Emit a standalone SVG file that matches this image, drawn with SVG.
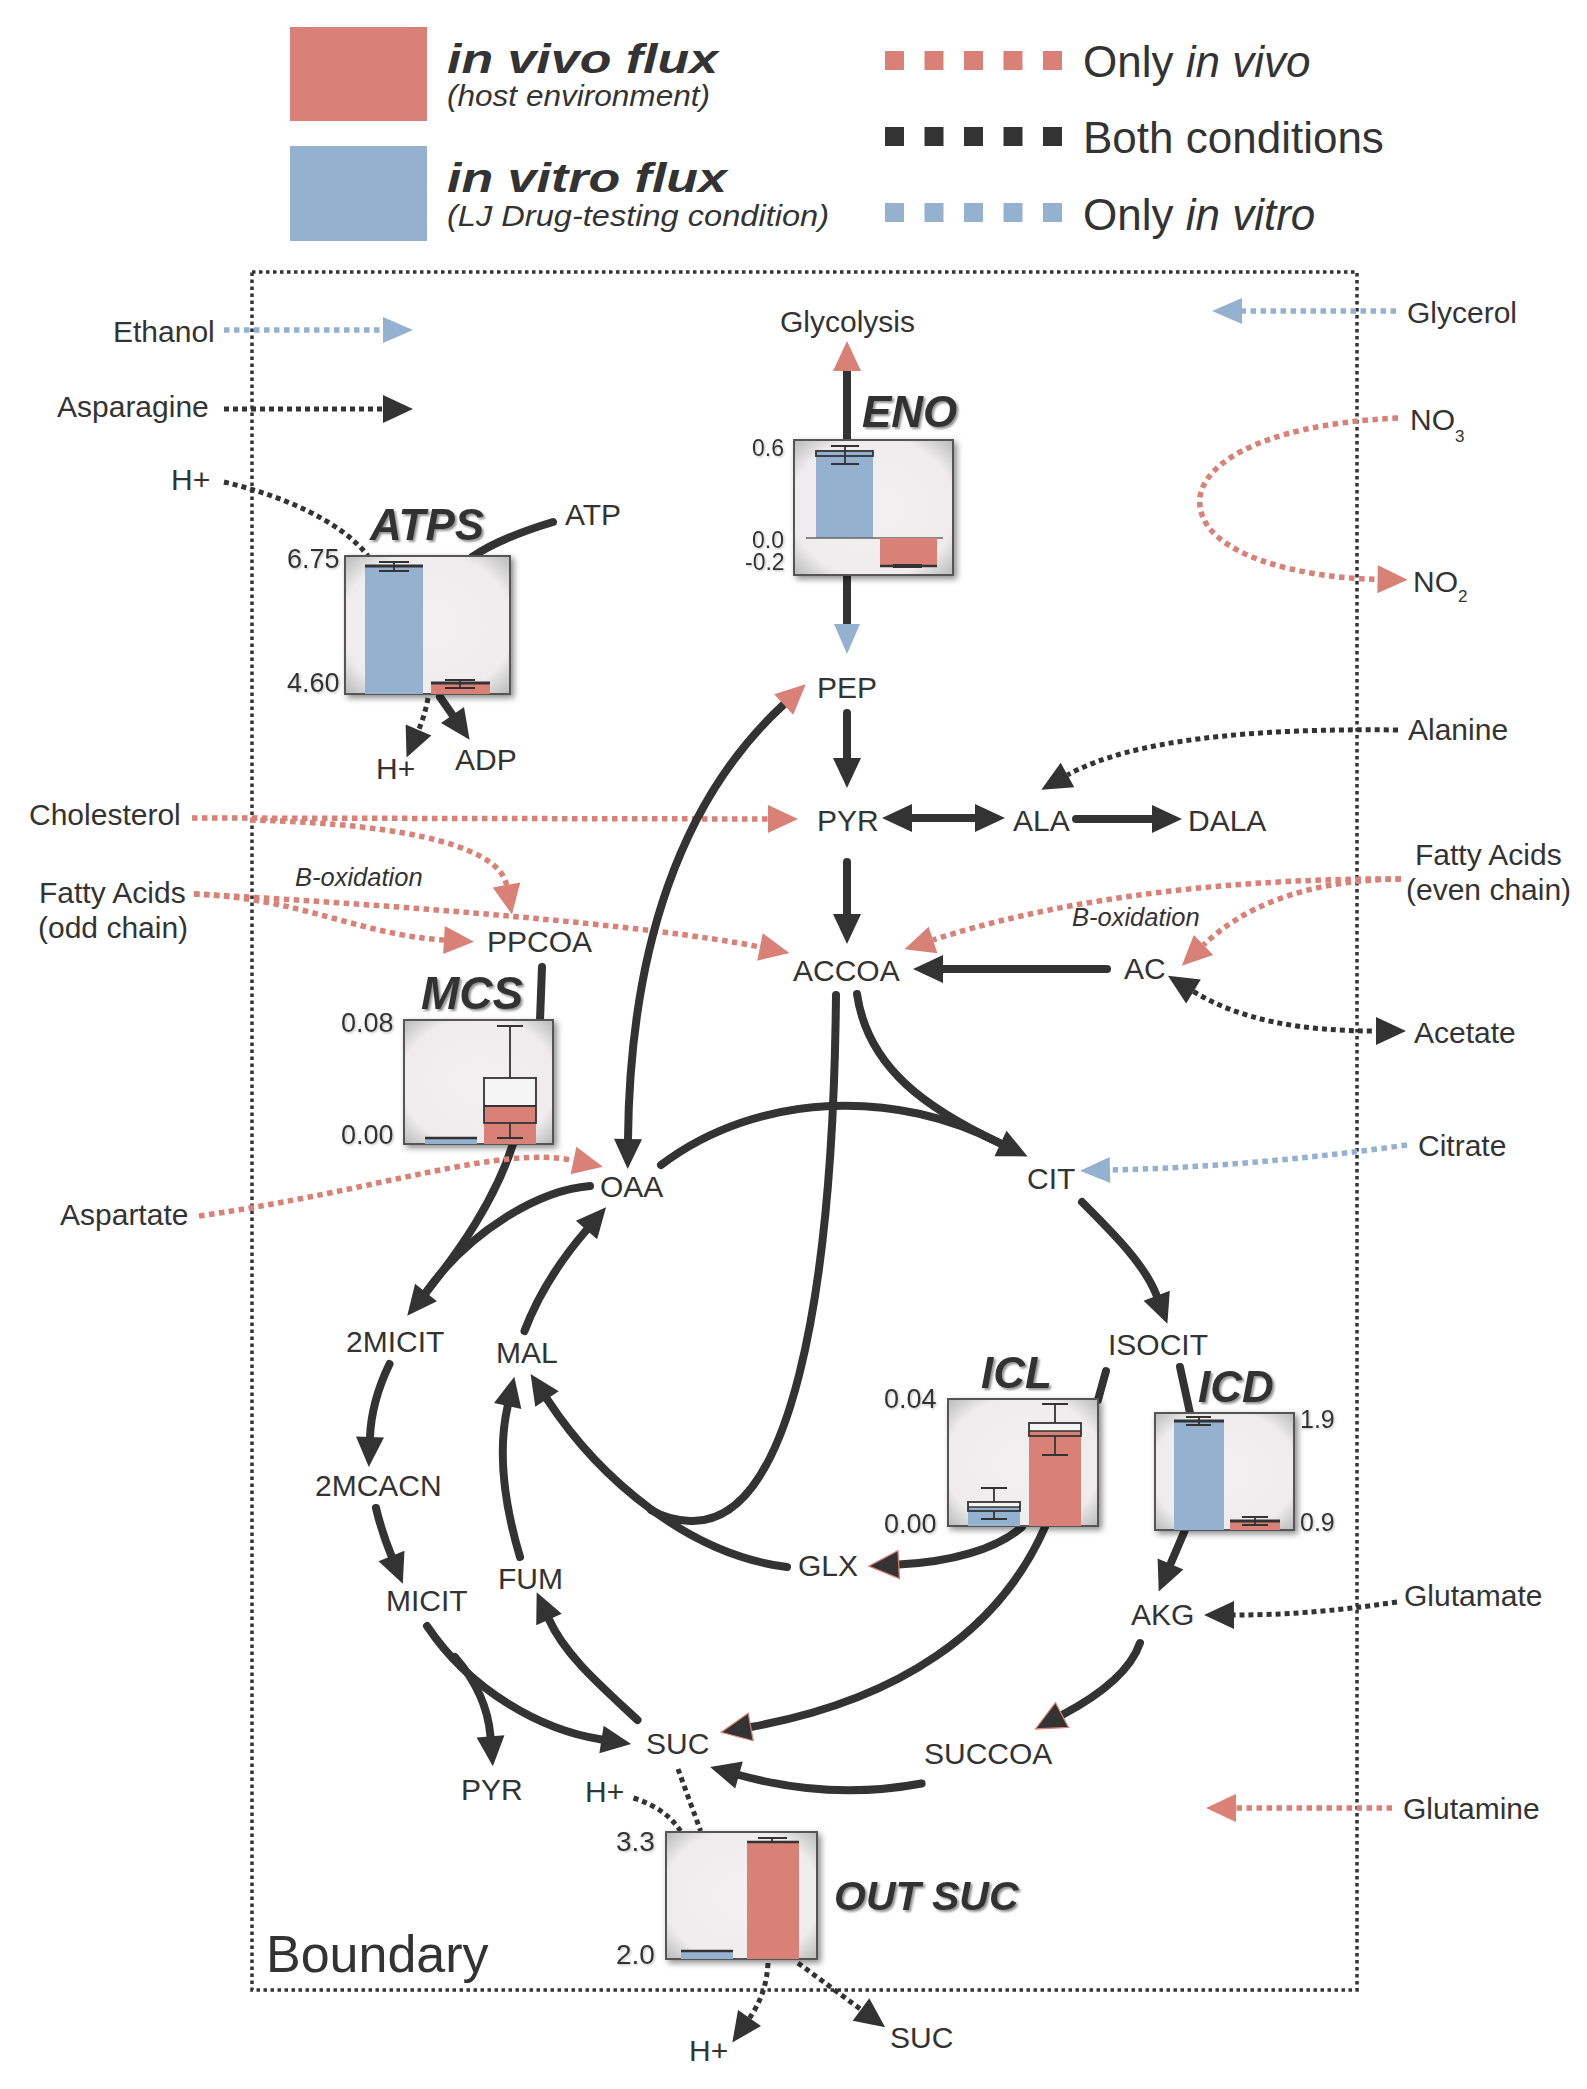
<svg xmlns="http://www.w3.org/2000/svg" width="1587" height="2089" viewBox="0 0 1587 2089">
<defs>
<style>
.t{font-family:"Liberation Sans",Arial,sans-serif;font-size:30px;fill:#333}
.n{font-family:"Liberation Sans",Arial,sans-serif;font-size:27px;fill:#333;filter:url(#nsh)}
.en{font-family:"Liberation Sans",Arial,sans-serif;font-weight:bold;font-style:italic;font-size:44px;fill:#333;filter:url(#tsh)}
.it{font-style:italic}
.s{fill:none;stroke:#333;stroke-width:8;stroke-linecap:round}
.dk{fill:none;stroke:#333;stroke-width:5;stroke-dasharray:5 4}
.dr{fill:none;stroke:#d98077;stroke-width:5.5;stroke-dasharray:5.5 4.5}
.db{fill:none;stroke:#95b1d0;stroke-width:5.5;stroke-dasharray:5.5 4.5}
.box{fill:url(#bg);stroke:#555;stroke-width:2;filter:url(#sh)}
.rb{fill:#d98077}
.bb{fill:#95b1d0}
.wk{stroke:#333;stroke-width:1.8;fill:none}
</style>
<radialGradient id="bg" cx="50%" cy="50%" r="72%">
<stop offset="0" stop-color="#f2f0f1"/>
<stop offset="0.72" stop-color="#eeeced"/>
<stop offset="1" stop-color="#b5b5b5"/>
</radialGradient>
<filter id="sh" x="-20%" y="-20%" width="140%" height="140%">
<feDropShadow dx="3" dy="3" stdDeviation="3" flood-color="#000" flood-opacity="0.45"/>
</filter>
<filter id="tsh" x="-20%" y="-20%" width="140%" height="140%">
<feDropShadow dx="2" dy="2" stdDeviation="1.2" flood-color="#777" flood-opacity="0.8"/>
</filter>
<filter id="nsh" x="-20%" y="-20%" width="140%" height="140%">
<feDropShadow dx="1.2" dy="1.2" stdDeviation="0.8" flood-color="#999" flood-opacity="0.6"/>
</filter>
<marker id="ad" viewBox="0 0 30 28" refX="0" refY="14" markerWidth="30" markerHeight="28" markerUnits="userSpaceOnUse" orient="auto-start-reverse" overflow="visible"><path d="M0,0 L30,14 L0,28 z" fill="#333"/></marker>
<marker id="adr" viewBox="0 0 30 28" refX="0" refY="14" markerWidth="30" markerHeight="28" markerUnits="userSpaceOnUse" orient="auto" overflow="visible"><path d="M0,0 L30,14 L0,28 z" fill="#333" stroke="#d98077" stroke-width="1.2"/></marker>
<marker id="ar" viewBox="0 0 30 28" refX="0" refY="14" markerWidth="30" markerHeight="28" markerUnits="userSpaceOnUse" orient="auto-start-reverse" overflow="visible"><path d="M0,0 L30,14 L0,28 z" fill="#d98077"/></marker>
<marker id="ab" viewBox="0 0 30 28" refX="0" refY="14" markerWidth="30" markerHeight="28" markerUnits="userSpaceOnUse" orient="auto" overflow="visible"><path d="M0,1 L30,14 L0,27 z" fill="#95b1d0"/></marker>
</defs>
<rect width="1587" height="2089" fill="#fff"/>

<!-- Legend -->
<g id="legend">
<rect x="290" y="27" width="137" height="94" fill="#d98077"/>
<rect x="290" y="146" width="137" height="95" fill="#95b1d0"/>
<text class="t" x="447" y="73" style="font-size:40px;font-weight:bold;font-style:italic" textLength="271" lengthAdjust="spacingAndGlyphs">in vivo flux</text>
<text class="t it" x="447" y="106" style="font-size:29px" textLength="263" lengthAdjust="spacingAndGlyphs">(host environment)</text>
<text class="t" x="447" y="192" style="font-size:40px;font-weight:bold;font-style:italic" textLength="280" lengthAdjust="spacingAndGlyphs">in vitro flux</text>
<text class="t it" x="447" y="226" style="font-size:29px" textLength="382" lengthAdjust="spacingAndGlyphs">(LJ Drug-testing condition)</text>
<g fill="#d98077"><rect x="885" y="51" width="19" height="19"/><rect x="924.5" y="51" width="19" height="19"/><rect x="964" y="51" width="19" height="19"/><rect x="1003.5" y="51" width="19" height="19"/><rect x="1043" y="51" width="19" height="19"/></g>
<g fill="#333"><rect x="885" y="127" width="19" height="19"/><rect x="924.5" y="127" width="19" height="19"/><rect x="964" y="127" width="19" height="19"/><rect x="1003.5" y="127" width="19" height="19"/><rect x="1043" y="127" width="19" height="19"/></g>
<g fill="#95b1d0"><rect x="885" y="203" width="19" height="19"/><rect x="924.5" y="203" width="19" height="19"/><rect x="964" y="203" width="19" height="19"/><rect x="1003.5" y="203" width="19" height="19"/><rect x="1043" y="203" width="19" height="19"/></g>
<text class="t" x="1083" y="77" style="font-size:44px">Only <tspan class="it">in vivo</tspan></text>
<text class="t" x="1083" y="153" style="font-size:44px">Both conditions</text>
<text class="t" x="1083" y="230" style="font-size:44px">Only <tspan class="it">in vitro</tspan></text>
</g>

<!-- Boundary -->
<g id="boundary">
<rect x="252" y="272" width="1105" height="1718" fill="none" stroke="#333" stroke-width="3.5" stroke-dasharray="3.5 3.5"/>
<text class="t" x="266" y="1972" style="font-size:52px">Boundary</text>
</g>

<!-- Connectors -->
<g id="connectors">
<path class="db" d="M224,330 L383,330" marker-end="url(#ab)"/>
<path class="dk" d="M224,409 L383,409" marker-end="url(#ad)"/>
<path class="db" d="M1396,311 L1242,311" marker-end="url(#ab)"/>
<path class="dk" d="M224,482 C280,495 340,520 368,556"/>
<path class="s" d="M553,522 Q500,538 472,557"/>
<path class="s" d="M440,697 L452.5,715" marker-end="url(#ad)"/>
<path class="dk" d="M428,698 Q425,715 418.5,730" marker-end="url(#ad)"/>
<path class="s" d="M847,440 L847,371" marker-end="url(#ar)"/>
<path class="s" d="M847,575 L847,624" marker-end="url(#ab)"/>
<path class="s" d="M847,713 L847,758" marker-end="url(#ad)"/>
<path class="s" d="M912,818 L975,818" marker-start="url(#ad)" marker-end="url(#ad)"/>
<path class="s" d="M1076,819 L1152,819" marker-end="url(#ad)"/>
<path class="s" d="M847,862 L847,914" marker-end="url(#ad)"/>
<path class="s" d="M1107,969 L943,969" marker-end="url(#ad)"/>
<path class="dk" d="M1398,730 C1250,728 1130,740 1067.5,775" marker-end="url(#ad)"/>
<path class="dr" d="M192,818 L768,819" marker-end="url(#ar)"/>
<path class="dr" d="M250,820 C420,824 500,850 506.5,885" marker-end="url(#ar)"/>
<path class="dr" d="M194,894 C400,905 650,925 760,947" marker-end="url(#ar)"/>
<path class="dr" d="M194,894 C300,898 360,935 444,940" marker-end="url(#ar)"/>
<path class="dr" d="M1401,879 C1200,878 1040,905 933,940" marker-end="url(#ar)"/>
<path class="dr" d="M1401,879 C1300,880 1240,910 1203.5,945" marker-end="url(#ar)"/>
<path class="dk" d="M1193.5,991.5 C1240,1020 1300,1031 1376,1031" marker-start="url(#ad)" marker-end="url(#ad)"/>
<path class="s" d="M857,994 C868,1070 930,1110 1000.5,1143.5" marker-end="url(#ad)"/>
<path class="s" d="M661,1165 C760,1090 900,1090 1000.5,1143.5"/>
<path class="db" d="M1407,1145 C1300,1160 1200,1168 1110,1170" marker-end="url(#ab)"/>
<path class="s" d="M1082,1202 C1115,1235 1145,1265 1156.7,1295.7" marker-end="url(#ad)"/>
<path class="s" d="M1106,1371 L1098,1400"/>
<path class="s" d="M1180,1367 L1190,1413"/>
<path class="s" d="M1184.6,1531 L1170.5,1564" marker-end="url(#ad)"/>
<path class="dk" d="M1397,1602 C1330,1612 1280,1615 1234,1615" marker-end="url(#ad)"/>
<path class="s" d="M1140,1643 C1130,1672 1100,1695 1062,1715" marker-end="url(#adr)"/>
<path class="s" d="M921.6,1783.5 C860,1795 800,1792 739,1775" marker-end="url(#ad)"/>
<path class="s" d="M1045,1527 C1000,1630 900,1700 750.7,1727" marker-end="url(#adr)"/>
<path class="s" d="M1022,1527 C995,1550 950,1562 898.7,1564.6" marker-end="url(#adr)"/>
<path class="s" d="M787,1567 C690,1555 600,1480 547,1399" marker-end="url(#ad)"/>
<path class="s" d="M836,995 C833,1300 790,1525 690,1521 Q668,1520 651,1510"/>
<path class="s" d="M520,1557 C500,1490 500,1440 507.7,1406" marker-end="url(#ad)"/>
<path class="s" d="M637.5,1720 C600,1685 565,1655 549,1619.5" marker-end="url(#ad)"/>
<path class="s" d="M427,1626 C470,1690 540,1730 601.5,1739.5" marker-end="url(#ad)"/>
<path class="s" d="M455,1657 C475,1680 488,1705 490.5,1736.4" marker-end="url(#ad)"/>
<path class="s" d="M376,1508 C380,1525 385,1540 391.5,1556" marker-end="url(#ad)"/>
<path class="s" d="M389.5,1364 C377,1390 371,1412 370,1437" marker-end="url(#ad)"/>
<path class="s" d="M513,1144 C495,1200 460,1250 426,1292.4" marker-end="url(#ad)"/>
<path class="s" d="M590,1186 C540,1190 470,1230 426,1292.4"/>
<path class="s" d="M524.5,1331 C540,1290 565,1255 586.5,1230" marker-end="url(#ad)"/>
<path class="s" d="M628,1139 C630,950 680,800 783.7,704.5" marker-start="url(#ad)" marker-end="url(#ar)"/>
<path class="dr" d="M199,1216 C380,1190 500,1145 573.5,1160.5" marker-end="url(#ar)"/>
<path class="dr" d="M1398,418 C1250,425 1195,470 1200,506 C1205,555 1300,578 1377.6,579.3" marker-end="url(#ar)"/>
<path class="dr" d="M1392,1808 L1236,1808" marker-end="url(#ar)"/>
<path class="s" d="M542,967 L540,1020"/>
<path class="dk" d="M678,1769 L700.6,1831"/>
<path class="dk" d="M633.5,1798 C655,1805 670,1815 680.5,1831"/>
<path class="dk" d="M768,1963 C767,1985 760,2003 749.5,2018" marker-end="url(#ad)"/>
<path class="dk" d="M798,1963 L861,2009.5" marker-end="url(#ad)"/>
</g>

<!-- Flux boxes -->
<g id="ATPS">
<rect class="box" x="345" y="556" width="165" height="138"/>
<rect class="bb" x="365" y="567" width="58" height="127"/>
<line x1="365" y1="566" x2="423" y2="566" stroke="#333" stroke-width="3"/>
<path class="wk" d="M394,562 V571 M379,562 H409 M379,571 H409"/>
<rect class="rb" x="431" y="683" width="59" height="11"/>
<line x1="431" y1="683" x2="490" y2="683" stroke="#333" stroke-width="3"/>
<path class="wk" d="M460,680 V688 M445,680 H475 M445,688 H475"/>
<text class="en" x="370" y="540">ATPS</text>
<text class="n" x="287" y="568">6.75</text>
<text class="n" x="287" y="692">4.60</text>
</g>

<g id="ENO">
<rect class="box" x="794" y="440" width="159" height="135"/>
<rect class="bb" x="816" y="450" width="57" height="88"/>
<rect x="816" y="451" width="57" height="5" fill="#95b1d0" stroke="#333" stroke-width="1.8"/>
<path class="wk" d="M845,446 V464 M831,446 H859 M831,464 H859"/>
<line x1="806" y1="538" x2="943" y2="538" stroke="#666" stroke-width="1.5"/>
<rect class="rb" x="880" y="538" width="57" height="29"/>
<line x1="880" y1="566" x2="937" y2="566" stroke="#333" stroke-width="2.5"/>
<rect x="893" y="564" width="29" height="4" fill="#333"/>
<text class="en" x="862" y="427">ENO</text>
<text class="n" x="752" y="456" style="font-size:23px">0.6</text>
<text class="n" x="752" y="548" style="font-size:23px">0.0</text>
<text class="n" x="745" y="570" style="font-size:23px">-0.2</text>
</g>

<g id="MCS">
<rect class="box" x="404" y="1020" width="149" height="124"/>
<rect class="bb" x="425" y="1138" width="52" height="6"/>
<line x1="425" y1="1138" x2="477" y2="1138" stroke="#333" stroke-width="2.5"/>
<rect class="rb" x="484" y="1106" width="52" height="38"/>
<rect x="485" y="1079" width="50" height="27" fill="#f5f5f5"/>
<rect x="484" y="1078" width="52" height="45" fill="none" stroke="#333" stroke-width="1.8"/>
<line x1="484" y1="1106" x2="536" y2="1106" stroke="#333" stroke-width="1.8"/>
<path class="wk" d="M510,1026 V1078 M510,1123 V1138 M497,1026 H523 M497,1138 H523"/>
<text class="en" x="421" y="1009" style="font-size:46px">MCS</text>
<text class="n" x="341" y="1032">0.08</text>
<text class="n" x="341" y="1144">0.00</text>
</g>

<g id="ICL">
<rect class="box" x="948" y="1399" width="150" height="127"/>
<rect class="bb" x="968" y="1507" width="52" height="19"/>
<rect x="968" y="1502" width="52" height="5" fill="#f5f5f5"/>
<rect x="968" y="1502" width="52" height="9" fill="none" stroke="#333" stroke-width="1.8"/>
<line x1="968" y1="1507" x2="1020" y2="1507" stroke="#333" stroke-width="1.5"/>
<path class="wk" d="M994,1488 V1502 M994,1511 V1519 M981,1488 H1007 M981,1519 H1007"/>
<rect class="rb" x="1029" y="1431" width="52" height="95"/>
<rect x="1029" y="1423" width="52" height="8" fill="#f5f5f5"/>
<rect x="1029" y="1423" width="52" height="13" fill="none" stroke="#333" stroke-width="1.8"/>
<line x1="1029" y1="1431" x2="1081" y2="1431" stroke="#333" stroke-width="1.5"/>
<path class="wk" d="M1055,1404 V1423 M1055,1436 V1455 M1042,1404 H1068 M1042,1455 H1068"/>
<text class="en" x="981" y="1388">ICL</text>
<text class="n" x="884" y="1408">0.04</text>
<text class="n" x="884" y="1533">0.00</text>
</g>

<g id="ICD">
<rect class="box" x="1155" y="1413" width="139" height="117"/>
<rect class="bb" x="1174" y="1421" width="50" height="109"/>
<line x1="1174" y1="1421" x2="1224" y2="1421" stroke="#333" stroke-width="3"/>
<path class="wk" d="M1199,1417 V1425 M1186,1417 H1211 M1186,1425 H1211"/>
<rect class="rb" x="1230" y="1521" width="50" height="9"/>
<line x1="1230" y1="1521" x2="1280" y2="1521" stroke="#333" stroke-width="3"/>
<path class="wk" d="M1255,1517 V1525 M1242,1517 H1268 M1242,1525 H1268"/>
<text class="en" x="1198" y="1402">ICD</text>
<text class="n" x="1300" y="1428" style="font-size:25px">1.9</text>
<text class="n" x="1300" y="1531" style="font-size:25px">0.9</text>
</g>

<g id="OUT_SUC">
<rect class="box" x="666" y="1832" width="151" height="127"/>
<rect class="bb" x="681" y="1951" width="52" height="8"/>
<line x1="681" y1="1951" x2="733" y2="1951" stroke="#333" stroke-width="2.5"/>
<rect class="rb" x="747" y="1842" width="52" height="117"/>
<line x1="747" y1="1842" x2="799" y2="1842" stroke="#333" stroke-width="2.5"/>
<path class="wk" d="M772,1838 V1842 M758,1838 H787"/>
<text class="en" x="834" y="1910" style="font-size:41px">OUT SUC</text>
<text class="n" x="616" y="1851" style="font-size:28px">3.3</text>
<text class="n" x="616" y="1964" style="font-size:28px">2.0</text>
</g>

<!-- Metabolite nodes -->
<g id="node-Glycolysis"><text class="t" x="780" y="332">Glycolysis</text></g>
<g id="node-PEP"><text class="t" x="817" y="698">PEP</text></g>
<g id="node-PYR"><text class="t" x="817" y="831">PYR</text></g>
<g id="node-ALA"><text class="t" x="1013" y="831">ALA</text></g>
<g id="node-DALA"><text class="t" x="1188" y="831">DALA</text></g>
<g id="node-ACCOA"><text class="t" x="793" y="981">ACCOA</text></g>
<g id="node-AC"><text class="t" x="1124" y="979">AC</text></g>
<g id="node-PPCOA"><text class="t" x="487" y="952">PPCOA</text></g>
<g id="node-OAA"><text class="t" x="600" y="1197">OAA</text></g>
<g id="node-CIT"><text class="t" x="1027" y="1189">CIT</text></g>
<g id="node-ISOCIT"><text class="t" x="1108" y="1355">ISOCIT</text></g>
<g id="node-2MICIT"><text class="t" x="346" y="1352">2MICIT</text></g>
<g id="node-MAL"><text class="t" x="496" y="1363">MAL</text></g>
<g id="node-2MCACN"><text class="t" x="315" y="1496">2MCACN</text></g>
<g id="node-MICIT"><text class="t" x="386" y="1611">MICIT</text></g>
<g id="node-FUM"><text class="t" x="498" y="1589">FUM</text></g>
<g id="node-GLX"><text class="t" x="798" y="1576">GLX</text></g>
<g id="node-AKG"><text class="t" x="1131" y="1625">AKG</text></g>
<g id="node-SUC"><text class="t" x="646" y="1754">SUC</text></g>
<g id="node-SUCCOA"><text class="t" x="924" y="1764">SUCCOA</text></g>
<g id="node-PYR2"><text class="t" x="461" y="1800">PYR</text></g>
<g id="node-Hplus-suc"><text class="t" x="585" y="1802">H+</text></g>
<g id="node-Hplus-out"><text class="t" x="689" y="2061">H+</text></g>
<g id="node-SUC-out"><text class="t" x="890" y="2048">SUC</text></g>
<g id="node-ATP"><text class="t" x="565" y="525">ATP</text></g>
<g id="node-ADP"><text class="t" x="455" y="770">ADP</text></g>
<g id="node-Hplus-atps"><text class="t" x="376" y="779">H+</text></g>
<g id="node-Hplus-in"><text class="t" x="171" y="490">H+</text></g>
<g id="node-Ethanol"><text class="t" x="113" y="342">Ethanol</text></g>
<g id="node-Asparagine"><text class="t" x="57" y="417">Asparagine</text></g>
<g id="node-Cholesterol"><text class="t" x="29" y="825">Cholesterol</text></g>
<g id="node-FAodd"><text class="t" x="39" y="903">Fatty Acids</text><text class="t" x="38" y="938">(odd chain)</text></g>
<g id="node-Aspartate"><text class="t" x="60" y="1225">Aspartate</text></g>
<g id="node-Glycerol"><text class="t" x="1407" y="323">Glycerol</text></g>
<g id="node-NO3"><text class="t" x="1410" y="430">NO<tspan style="font-size:17px" dy="12">3</tspan></text></g>
<g id="node-NO2"><text class="t" x="1413" y="592">NO<tspan style="font-size:17px" dy="10">2</tspan></text></g>
<g id="node-Alanine"><text class="t" x="1408" y="740">Alanine</text></g>
<g id="node-FAeven"><text class="t" x="1415" y="865">Fatty Acids</text><text class="t" x="1406" y="900">(even chain)</text></g>
<g id="node-Acetate"><text class="t" x="1414" y="1043">Acetate</text></g>
<g id="node-Citrate"><text class="t" x="1418" y="1156">Citrate</text></g>
<g id="node-Glutamate"><text class="t" x="1404" y="1606">Glutamate</text></g>
<g id="node-Glutamine"><text class="t" x="1403" y="1819">Glutamine</text></g>
<g id="labels">
<text class="t it" x="295" y="886" style="font-size:25.5px">B-oxidation</text>
<text class="t it" x="1072" y="926" style="font-size:25.5px">B-oxidation</text>
</g>
</svg>
